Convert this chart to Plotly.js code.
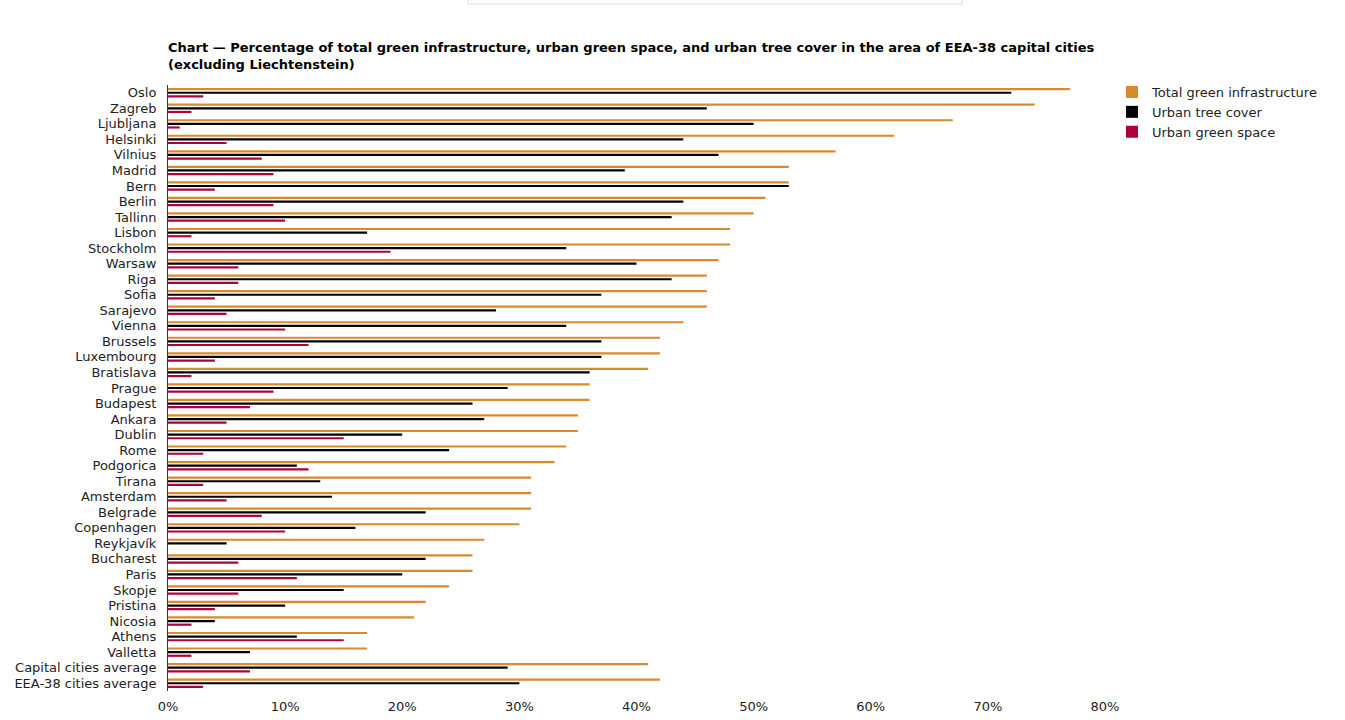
<!DOCTYPE html>
<html>
<head>
<meta charset="utf-8">
<script src="https://cdn.plot.ly/plotly-3.0.1.min.js"></script>
<style>html,body{margin:0;padding:0;background:#fff;}#chart{width:1345px;height:720px;}</style>
</head>
<body>
<div id="chart"></div>
<script>
const cities = ["Oslo","Zagreb","Ljubljana","Helsinki","Vilnius","Madrid","Bern","Berlin","Tallinn","Lisbon","Stockholm","Warsaw","Riga","Sofia","Sarajevo","Vienna","Brussels","Luxembourg","Bratislava","Prague","Budapest","Ankara","Dublin","Rome","Podgorica","Tirana","Amsterdam","Belgrade","Copenhagen","Reykjavík","Bucharest","Paris","Skopje","Pristina","Nicosia","Athens","Valletta","Capital cities average","EEA-38 cities average"];
const totalGreen = [77,74,67,62,57,53,53,51,50,48,48,47,46,46,46,44,42,42,41,36,36,35,35,34,33,31,31,31,30,27,26,26,24,22,21,17,17,41,42];
const treeCover = [72,46,50,44,47,39,53,44,43,17,34,40,43,37,28,34,37,37,36,29,26,27,20,24,11,13,14,22,16,5,22,20,15,10,4,11,7,29,30];
const greenSpace = [3,2,1,5,8,9,4,9,10,2,19,6,6,4,5,10,12,4,2,9,7,5,15,3,12,3,5,8,10,0,6,11,6,4,2,15,2,7,3];

const fontFam = "'DejaVu Sans', Verdana, sans-serif";
const traces = [
  {name:"Total green infrastructure", x: totalGreen, color:"#d98a2b"},
  {name:"Urban tree cover", x: treeCover, color:"#000000"},
  {name:"Urban green space", x: greenSpace, color:"#b0003c"}
].map(s => ({
  type:"bar", orientation:"h", name:s.name, x:s.x, y:cities,
  marker:{color:s.color}, hoverinfo:"x+y"
}));

const W = 937, H = 606; // plot area in px
const layout = {
  width:1345, height:720,
  margin:{l:168, r:240, t:85, b:29},
  paper_bgcolor:"#fff", plot_bgcolor:"#fff",
  font:{family:fontFam, size:13, color:"#222"},
  title:{
    text:"<b>Chart — Percentage of total green infrastructure, urban green space, and urban tree cover in the area of EEA-38 capital cities<br>(excluding Liechtenstein)</b>",
    x:168/1345, xanchor:"left", y:1-52/720, yanchor:"top",
    font:{family:fontFam, size:13, color:"#000"}
  },
  barmode:"group", bargap:0.3, bargroupgap:0.4,
  xaxis:{range:[0,80], dtick:10, ticksuffix:"%", showgrid:false, zeroline:false, showline:false, ticks:"", fixedrange:true,
         ticklabelstandoff:6, tickfont:{family:fontFam, size:13, color:"#222"}},
  yaxis:{type:"category", autorange:"reversed", showgrid:false, zeroline:false, showline:true, linecolor:"#333", linewidth:1,
         tickmode:"array", tickvals:cities, ticktext:cities,
         ticks:"", ticklabelstandoff:8, tickfont:{family:fontFam, size:13, color:"#222"}},
  legend:{x:(1112-168)/W, xanchor:"left", y:1+(85-77)/H, yanchor:"top",
          font:{family:fontFam, size:13, color:"#222"}, tracegroupgap:0, itemclick:false},
  showlegend:true,
  shapes:[{type:"rect", xref:"paper", yref:"paper", x0:(468-168)/W, x1:(962-168)/W, y0:1+81/H, y1:1+95/H,
           line:{color:"#dcdcdc", width:1}, fillcolor:"#ffffff", layer:"above"}]
};
Plotly.newPlot("chart", traces, layout, {displayModeBar:false, responsive:false});
</script>
</body>
</html>
